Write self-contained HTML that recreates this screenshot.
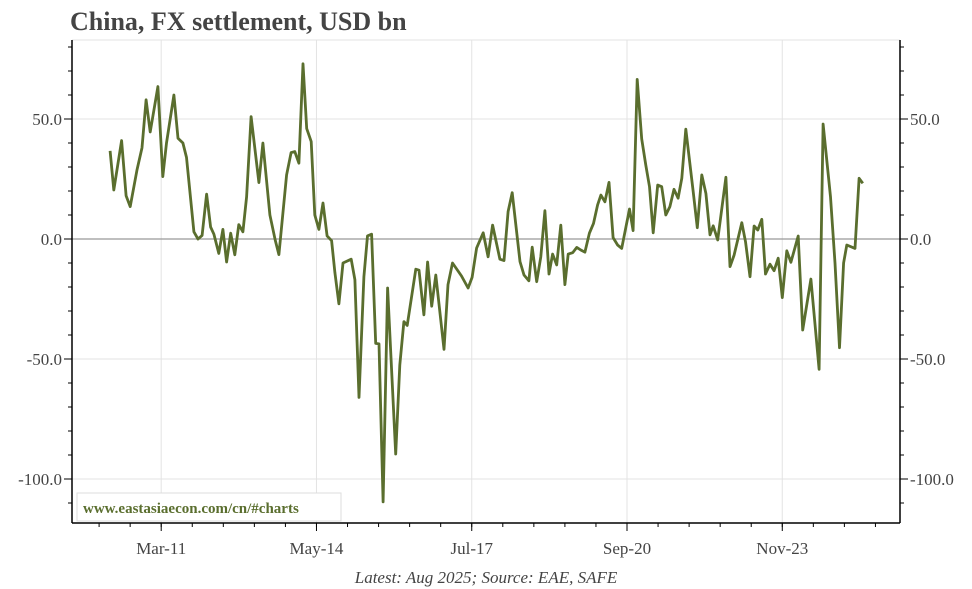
<!DOCTYPE html>
<html><head><meta charset="utf-8"><style>
html,body{margin:0;padding:0;background:#fff;}
svg{display:block;font-family:"Liberation Serif",serif;}
</style></head><body>
<svg id="chart" width="972" height="589" viewBox="0 0 972 589">
<text x="70" y="30" font-size="26" font-weight="bold" fill="#444">China, FX settlement, USD bn</text>
<g id="grid"></g>
<g id="axes"></g>
<g id="series"></g>
<rect x="77" y="493" width="264" height="28" fill="#fff" stroke="#ddd"/>
<text x="83" y="513" font-size="15" font-weight="bold" fill="#5a6e2e">www.eastasiaecon.com/cn/#charts</text>
<text x="486" y="583" font-size="17" font-style="italic" fill="#444" text-anchor="middle">Latest: Aug 2025; Source: EAE, SAFE</text>
</svg>
<script>
// months since Jan 2010
const months = [1.5,2.4,4.3,5.4,6.4,8.1,9.3,10.3,11.3,13.2,14.4,15.3,17.1,18.1,19.3,20.2,22.0,23.0,24.0,25.1,26.1,26.9,28.1,29.1,30.0,31.0,32.0,33.0,34.0,34.9,36.0,37.9,38.9,40.6,41.9,42.8,44.7,45.8,46.7,47.7,48.7,49.6,50.7,51.6,52.6,53.6,54.6,55.7,56.5,57.5,58.5,60.5,61.4,62.4,63.6,64.5,65.5,66.5,67.3,68.3,69.4,71.4,72.4,73.4,74.2,76.3,77.1,78.3,79.2,80.2,81.2,83.2,84.2,85.3,87.5,89.1,90.1,91.2,92.8,94.0,95.1,96.9,97.9,98.9,99.9,101.8,102.8,104.0,104.8,105.9,106.9,107.9,108.9,109.8,110.8,111.8,112.8,113.6,114.7,115.7,116.7,117.7,118.8,119.8,120.8,121.6,122.6,123.6,124.6,125.7,126.7,128.6,129.5,130.5,131.6,132.6,133.5,134.4,135.5,136.5,137.5,138.5,139.5,140.5,141.4,142.4,144.2,145.2,146.3,147.3,148.3,149.1,150.2,152.2,153.2,154.2,156.1,157.0,158.1,159.1,160.0,161.0,161.9,163.0,164.0,165.0,166.0,167.1,168.1,169.9,171.0,173.0,175.0,176.0,177.8,178.9,180.0,181.0,181.8,183.8,184.8,185.7];
const values = [36.7,20.4,41,18,13.5,29,38,58,44.6,63.5,26,40,60,42,40,34,3,0,1.5,18.7,5,2,-6,4,-9.6,2.4,-6.6,6,3,17.6,51,23.5,40,10,-0.4,-6.5,26.7,36,36.4,31.6,73,46,40.6,10,4,15,1.3,-0.7,-14,-27,-10,-8.4,-17,-66,-15.7,1.3,2,-43.5,-43.7,-109.5,-20.4,-89.6,-52.5,-34.4,-36,-12.6,-13,-31.6,-9.6,-28,-15,-46,-19,-10,-15.4,-20.4,-16,-3.8,2.6,-7.4,5.8,-8.4,-9,11.4,19.3,-9.4,-15,-17.4,-3.4,-17.8,-7.4,11.8,-14.6,-6.3,-10.8,5.8,-19,-6.3,-5.7,-3.5,-4.6,-5.5,2.4,6.5,14.2,18.3,15.5,23.6,0.6,-2.5,-3.9,12.5,3.5,66.5,41.7,30.8,21.8,2.6,22.5,21.8,10,13.5,20.7,17,25.3,45.8,19.7,4.7,26.7,19,1.7,5.5,-0.4,25.7,-11.5,-6.7,6.8,-1.1,-15.7,5.4,3.75,8.2,-14.6,-10.5,-13.2,-8,-24.4,-4.9,-9.7,1.25,-37.9,-16.7,-54.3,47.9,17.6,-10,-45.3,-10,-2.5,-3.9,25.3,23.2,14.9];
const xTickMonths = [14,52,90,128,166];
const xTickLabels = ["Mar-11","May-14","Jul-17","Sep-20","Nov-23"];
const yTicks = [-100,-50,0,50];
const yTickLabels = ["-100.0","-50.0","0.0","50.0"];

const NS="http://www.w3.org/2000/svg";
const L=72,R=900,T=40,B=523;
const xs = m => 104 + m*4.086;
const ys = v => 239 - 2.4*v;
function mk(tag,attrs,parent){const e=document.createElementNS(NS,tag);for(const k in attrs)e.setAttribute(k,attrs[k]);parent.appendChild(e);return e;}
const grid=document.getElementById('grid'),axes=document.getElementById('axes'),series=document.getElementById('series');

xTickMonths.forEach((m,i)=>{
  const x=xs(m);
  const g=mk('line',{x1:x,x2:x,y1:T,y2:B,stroke:'#e3e3e3','stroke-width':1},grid);
  
  
  const t=mk('line',{x1:x,x2:x,y1:B,y2:B+8,stroke:'#000','stroke-width':1},axes);
  
  
  const lb=mk('text',{x:x,y:554,'font-size':17,fill:'#444','text-anchor':'middle'},axes);
  lb.textContent=xTickLabels[i];
  
  
});
for(let m=14-38;m<=190;m+=38/5){
  const x=xs(m); if(x<L+2||x>R-2) continue;
  const t=mk('line',{x1:x,x2:x,y1:B,y2:B+4,stroke:'#000','stroke-width':1},axes);
  
  
}
yTicks.forEach((v,i)=>{
  const y=ys(v);
  const g=mk('line',{x1:L,x2:R,y1:y,y2:y,stroke:v===0?'#999':'#e3e3e3','stroke-width':v===0?1.3:1},grid);
  
  
  [[L-8,L],[R,R+8]].forEach(([a,b],j)=>{
    const t=mk('line',{x1:a,x2:b,y1:y,y2:y,stroke:'#000','stroke-width':1},axes);
    
    
    const lb=mk('text',{x:j?R+10:L-10,y:y+6,'font-size':17,fill:'#444','text-anchor':j?'start':'end'},axes);
    lb.textContent=yTickLabels[i];
    
    
  });
});
for(let v=-110;v<=80;v+=10){
  if(v%50===0) continue;
  const y=ys(v); if(y<T||y>B) continue;
  [[L-4,L],[R,R+4]].forEach(([a,b])=>{
    const t=mk('line',{x1:a,x2:b,y1:y,y2:y,stroke:'#000','stroke-width':1},axes);
    
    
  });
}
const sp1=mk('line',{x1:L,x2:L,y1:T,y2:B,stroke:'#000','stroke-width':1.5},axes);


const sp2=mk('line',{x1:R,x2:R,y1:T,y2:B,stroke:'#000','stroke-width':1.5},axes);


const sp3=mk('line',{x1:L,x2:R,y1:B,y2:B,stroke:'#000','stroke-width':1.5},axes);


const sp4=mk('line',{x1:L,x2:R,y1:T,y2:T,stroke:'#e3e3e3','stroke-width':1},grid);



const pts=months.map((m,i)=>xs(m).toFixed(1)+','+ys(values[i]).toFixed(1)).join(' ');
const line=mk('polyline',{points:pts,fill:'none',stroke:'#5a6e2e','stroke-width':2.8,'stroke-linejoin':'round'},series);


</script>
</body></html>
